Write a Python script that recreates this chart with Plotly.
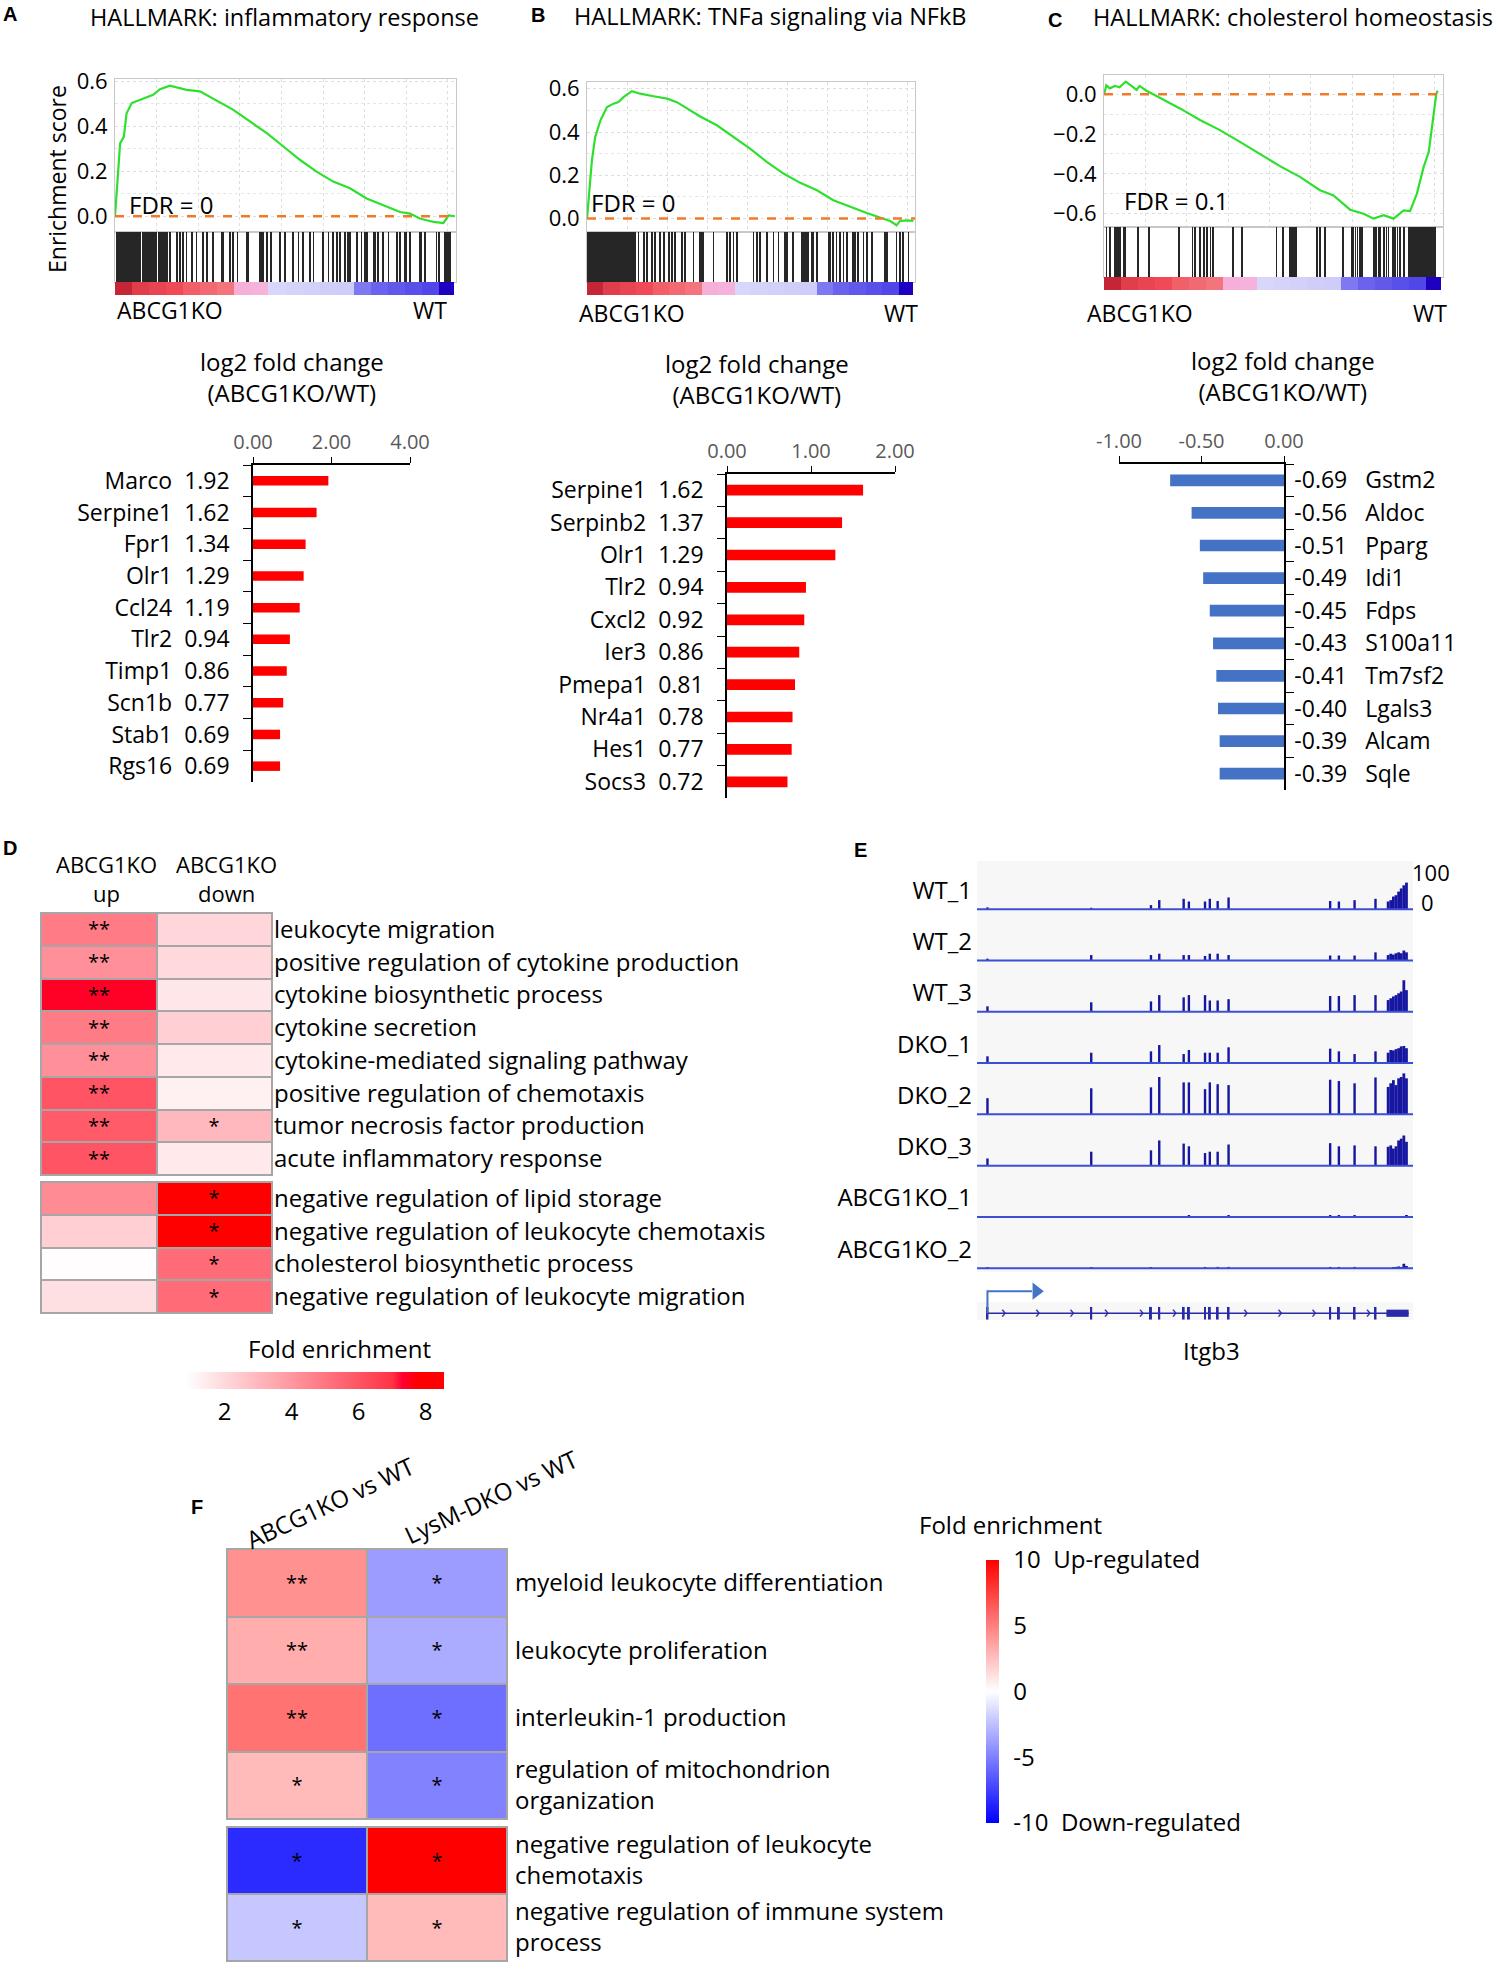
import plotly.graph_objects as go

W, H = 1496, 1965
FA = "Open Sans"
FN = "Open Sans"

# ---------------- data: GSEA (x = position in ranked list, %) ----------------
es_a_x = [0, 0.5, 1.5, 2.6, 3.4, 4.9, 7.3, 11.2, 13.2, 16.1, 21.0, 24.9, 34.7, 39.6, 44.5, 49.4, 54.3,
          59.1, 64.0, 68.9, 73.8, 78.7, 83.6, 86.5, 89.4, 91.4, 93.4, 96.3, 97.8, 99.7]
es_a_y = [0, 0.109, 0.324, 0.354, 0.458, 0.503, 0.518, 0.54, 0.565, 0.58, 0.562, 0.555, 0.473, 0.421,
          0.369, 0.31, 0.25, 0.198, 0.154, 0.124, 0.079, 0.049, 0.019, 0.012, -0.01, -0.018, -0.025,
          -0.03, 0.004, 0.0]
hits_a = [0.5, 0.8, 1.2, 1.5, 1.8, 2.1, 2.4, 2.8, 3.2, 3.6, 4.0, 4.4, 4.9, 5.4, 5.8, 6.2, 6.5, 7.1, 7.5,
          8.1, 8.5, 8.9, 9.3, 9.9, 10.5, 11.0, 11.4, 11.8, 12.2, 12.8, 13.2, 13.8, 14.4, 15.0, 15.3,
          16.1, 18.1, 19.1, 20.0, 21.0, 22.5, 23.9, 25.9, 26.9, 28.8, 31.3, 31.8, 33.7, 34.7, 35.9,
          38.6, 39.1, 42.5, 43.0, 43.5, 44.5, 45.7, 48.4, 49.9, 52.3, 53.8, 55.2, 57.2, 58.2, 61.1,
          62.6, 64.0, 65.2, 66.0, 67.4, 68.4, 68.9, 70.9, 72.3, 73.3, 73.8, 75.8, 76.2, 77.2, 78.7,
          80.2, 82.6, 83.6, 85.0, 85.5, 86.5, 89.4, 89.9, 90.9, 94.3, 95.1, 96.8, 97.3, 97.8, 98.3]

es_b_x = [0, 0.5, 1.5, 2.5, 4.1, 6.1, 8.1, 9.6, 11.2, 13.7, 16.2, 20.3, 24.4, 27.4, 34.5, 39.6, 44.7,
          49.7, 54.8, 59.9, 65.0, 70.1, 75.1, 80.2, 85.3, 89.3, 92.4, 94.4, 95.4, 97.5, 99.5]
es_b_y = [0, 0.085, 0.269, 0.377, 0.454, 0.515, 0.531, 0.538, 0.562, 0.589, 0.577, 0.565, 0.554, 0.538,
          0.472, 0.431, 0.377, 0.323, 0.262, 0.208, 0.165, 0.131, 0.085, 0.054, 0.026, 0.005, -0.011,
          -0.031, -0.011, -0.008, -0.011]
hits_b = [0.2, 0.5, 0.8, 1.1, 1.4, 1.7, 2.0, 2.4, 2.8, 3.2, 3.7, 4.1, 4.6, 5.1, 5.6, 6.1, 6.7, 7.3, 7.9,
          8.5, 9.1, 9.7, 10.4, 11.0, 11.6, 12.2, 12.8, 13.4, 14.0, 14.7, 15.7, 17.3, 18.3, 19.8, 20.8,
          22.3, 23.4, 24.9, 25.9, 26.9, 28.9, 29.9, 32.5, 34.5, 35.0, 35.5, 38.6, 42.6, 43.7, 44.7,
          45.7, 50.8, 51.8, 52.8, 54.8, 56.9, 58.4, 60.4, 60.9, 62.9, 65.5, 66.0, 66.5, 67.0, 67.5,
          68.5, 69.0, 70.1, 73.6, 74.1, 75.1, 76.1, 77.2, 78.2, 79.2, 81.2, 81.7, 82.7, 84.3, 85.3,
          86.8, 90.9, 91.4, 94.4, 95.4, 96.4, 98.0]

es_c_x = [0, 0.7, 1.7, 3.2, 4.6, 6.4, 8.1, 9.6, 10.5, 12.5, 14.5, 22.4, 28.3, 34.2, 40.1, 46.0, 51.9,
          57.8, 63.7, 67.7, 72.6, 76.6, 79.5, 82.5, 85.4, 88.4, 90.3, 92.3, 94.3, 95.8, 96.7, 97.4,
          98.0, 98.4]
es_c_y = [0.0, 0.045, 0.03, 0.042, 0.035, 0.064, 0.042, 0.022, 0.042, 0.018, 0.0, -0.071, -0.129, -0.18,
          -0.239, -0.30, -0.361, -0.415, -0.482, -0.508, -0.58, -0.6, -0.625, -0.608, -0.625, -0.583,
          -0.587, -0.499, -0.365, -0.289, -0.18, -0.079, 0.0, 0.018]
hits_c = [0.7, 1.7, 3.2, 3.8, 4.4, 4.8, 5.8, 6.1, 10.0, 13.2, 22.2, 26.1, 26.8, 28.3, 29.6, 30.4, 31.4,
          32.2, 38.1, 40.6, 50.9, 52.7, 54.7, 55.1, 55.5, 55.9, 56.3, 56.7, 62.8, 63.7, 65.2, 70.6,
          73.1, 73.6, 74.2, 74.8, 75.6, 76.1, 79.7, 80.3, 81.0, 81.5, 82.5, 83.3, 83.9, 85.2, 85.9,
          86.6, 87.4, 88.4, 89.9, 90.5, 91.1, 91.5, 91.9, 92.3, 92.7, 93.1, 93.5, 93.9, 94.3, 94.7,
          95.1, 95.5, 95.9, 96.3, 96.7, 97.1, 97.4, 97.8]

rank_edges = [0, 5, 10, 15, 20, 25, 30, 35, 40, 45, 50, 55, 60, 65, 70, 75, 80, 85, 90, 95, 99.3]
rank_metric = [1.0, 0.8, 0.75, 0.7, 0.6, 0.55, 0.5, 0.3, 0.25, -0.15, -0.2, -0.25, -0.3, -0.35,
               -0.55, -0.65, -0.7, -0.75, -0.8, -1.0]

# ---------------- data: log2 fold change bars ----------------
genes_a = ["Marco", "Serpine1", "Fpr1", "Olr1", "Ccl24", "Tlr2", "Timp1", "Scn1b", "Stab1", "Rgs16"]
lfc_a = [1.92, 1.62, 1.34, 1.29, 1.19, 0.94, 0.86, 0.77, 0.69, 0.69]
genes_b = ["Serpine1", "Serpinb2", "Olr1", "Tlr2", "Cxcl2", "Ier3", "Pmepa1", "Nr4a1", "Hes1", "Socs3"]
lfc_b = [1.62, 1.37, 1.29, 0.94, 0.92, 0.86, 0.81, 0.78, 0.77, 0.72]
genes_c = ["Gstm2", "Aldoc", "Pparg", "Idi1", "Fdps", "S100a11", "Tm7sf2", "Lgals3", "Alcam", "Sqle"]
lfc_c = [-0.69, -0.56, -0.51, -0.49, -0.45, -0.43, -0.41, -0.40, -0.39, -0.39]

# ---------------- data: panel D ----------------
d_cols = ["up", "down"]
d_terms_top = ["leukocyte migration", "positive regulation of cytokine production",
               "cytokine biosynthetic process", "cytokine secretion",
               "cytokine-mediated signaling pathway", "positive regulation of chemotaxis",
               "tumor necrosis factor production", "acute inflammatory response"]
d_up_top = [4.8, 4.2, 7.4, 4.8, 4.2, 6.0, 5.8, 6.0]
d_down_top = [2.1, 2.0, 1.6, 2.3, 1.5, 1.3, 3.0, 1.5]
d_sig_up_top = ["**"] * 8
d_sig_down_top = ["", "", "", "", "", "", "*", ""]
d_terms_bot = ["negative regulation of lipid storage", "negative regulation of leukocyte chemotaxis",
               "cholesterol biosynthetic process", "negative regulation of leukocyte migration"]
d_up_bot = [4.35, 2.3, 0.9, 1.8]
d_down_bot = [8.3, 8.3, 5.3, 5.3]
d_sig_up_bot = ["", "", "", ""]
d_sig_down_bot = ["*", "*", "*", "*"]

# ---------------- data: panel E (coverage, Itgb3) ----------------
tracks = ["WT_1", "WT_2", "WT_3", "DKO_1", "DKO_2", "DKO_3", "ABCG1KO_1", "ABCG1KO_2"]
exon_pos = [2.4, 26.2, 39.9, 41.8, 47.4, 48.6, 52.3, 53.4, 55.2, 57.7, 81.0, 83.0, 86.6, 91.4]
utr_pos = [94.3, 94.9, 95.5, 96.1, 96.7, 97.3, 97.9, 98.5]
utr_start, utr_end = 93.9, 99.0
coverage = {
    "WT_1": [4, 3, 9, 20, 23, 17, 17, 23, 18, 26, 18, 17, 20, 23] + [17, 20, 28, 31, 39, 46, 53, 59],
    "WT_2": [4, 12, 12, 15, 12, 12, 10, 15, 15, 12, 11, 11, 11, 18] + [12, 15, 13, 16, 18, 16, 22, 18],
    "WT_3": [12, 21, 23, 37, 32, 37, 37, 25, 25, 28, 35, 35, 37, 37] + [26, 30, 34, 37, 41, 45, 70, 48],
    "DKO_1": [15, 23, 26, 40, 20, 29, 23, 23, 23, 35, 32, 26, 20, 26] + [23, 29, 28, 31, 33, 37, 38, 33],
    "DKO_2": [36, 58, 60, 83, 71, 71, 56, 71, 67, 65, 77, 74, 69, 82] + [61, 69, 76, 65, 80, 83, 91, 80],
    "DKO_3": [16, 31, 34, 56, 49, 43, 28, 31, 31, 47, 50, 43, 45, 43] + [42, 45, 38, 43, 56, 60, 67, 53],
    "ABCG1KO_1": [0, 0, 0, 0, 0, 3, 0, 0, 0, 3, 4, 4, 3, 0] + [0, 0, 0, 0, 0, 0, 0, 4],
    "ABCG1KO_2": [2, 2, 2, 0, 0, 0, 3, 0, 3, 3, 3, 3, 3, 0] + [0, 0, 2, 3, 4, 2, 10, 5],
}
strand_marks = [6.1, 13.9, 21.8, 29.7, 37.7, 45.3, 61.6, 69.5, 77.3, 89.8]

# ---------------- data: panel F ----------------
f_cols = ["ABCG1KO vs WT", "LysM-DKO vs WT"]
f_terms_top = ["myeloid leukocyte differentiation", "leukocyte proliferation",
               "interleukin-1 production", "regulation of mitochondrion<br>organization"]
f_ko_top = [4.3, 3.2, 5.5, 2.7]
f_dko_top = [-3.9, -3.3, -5.7, -4.9]
f_sig_ko_top = ["**", "**", "**", "*"]
f_sig_dko_top = ["*", "*", "*", "*"]
f_terms_bot = ["negative regulation of leukocyte<br>chemotaxis",
               "negative regulation of immune system<br>process"]
f_ko_bot = [-8.3, -2.2]
f_dko_bot = [10, 2.7]
f_sig_ko_bot = ["*", "*"]
f_sig_dko_bot = ["*", "*"]

# ---------------- helpers ----------------
layout = {}
shapes = []
annotations = []
fig = go.Figure()


def axpair(n, x0, x1, y0, y1, xa=None, ya=None):
    s = "" if n == 1 else str(n)
    layout["xaxis" + s] = dict(domain=[x0 / W, x1 / W], anchor="y" + s, automargin=False, **(xa or {}))
    layout["yaxis" + s] = dict(domain=[1 - y1 / H, 1 - y0 / H], anchor="x" + s, automargin=False,
                               **(ya or {}))
    return "x" + s, "y" + s


def ann(text, x, y, size=22, family=FA, xanchor="center", yanchor="middle", **kw):
    annotations.append(dict(text=text, x=x / W, y=1 - y / H, xref="paper", yref="paper",
                            showarrow=False, font=dict(size=size, family=family, color="black"),
                            xanchor=xanchor, yanchor=yanchor, **kw))


def prect(x0, x1, y0, y1, color):
    shapes.append(dict(type="rect", xref="paper", yref="paper", x0=x0 / W, x1=x1 / W,
                       y0=1 - y1 / H, y1=1 - y0 / H, fillcolor=color, line_width=0, layer="below"))


blank = dict(showgrid=False, zeroline=False, showticklabels=False, ticks="", showline=False)
frame = dict(showline=True, linecolor="#c8c8c8", mirror=True, linewidth=1)
strip_scale = [[0, "#1e00c0"], [0.08, "#4a3ee6"], [0.22, "#7a74f0"], [0.3, "#cbc9f8"],
               [0.45, "#dad8fa"], [0.55, "#f6c0e4"], [0.68, "#f5aad6"], [0.72, "#f38088"],
               [0.85, "#ef4a56"], [1, "#c42638"]]


def gsea(n, x0, x1, top, es_bot, hit_bot, strip_bot, ex, ey, hits, yr, yt):
    grid = dict(showgrid=True, gridcolor="#dedede", griddash="dot", gridwidth=1)
    xs, ys = axpair(n, x0, x1, top, es_bot,
                    dict(range=[0, 100], dtick=12.2, tick0=0, showticklabels=False, ticks="",
                         zeroline=False, **grid, **frame),
                    dict(range=yr, tickvals=yt, tickformat=".1f", ticks="", zeroline=False,
                         ticklabelstandoff=2,
                         tickfont=dict(size=22, family=FA, color="black"),
                         minor=dict(dtick=0.1, tick0=0, showgrid=True, gridcolor="#e6e6e6",
                                    griddash="dot"), **grid, **frame))
    fig.add_trace(go.Scatter(x=ex, y=ey, mode="lines", line=dict(color="#2ee02e", width=2.2),
                             xaxis=xs, yaxis=ys))
    shapes.append(dict(type="line", xref=xs + " domain", yref=ys, x0=0, x1=1, y0=0, y1=0,
                       line=dict(color="#f07a2a", width=2.5, dash="dash")))
    xs2, ys2 = axpair(n + 1, x0, x1, es_bot, hit_bot,
                      dict(range=[0, 100], **dict(blank, **frame)),
                      dict(range=[0, 1], **dict(blank, **frame)))
    fig.add_trace(go.Bar(x=hits, y=[1] * len(hits), width=0.22, marker=dict(color="#262626", line_width=0),
                         xaxis=xs2, yaxis=ys2))
    xs3, ys3 = axpair(n + 2, x0, x1, hit_bot, strip_bot, dict(range=[0, 100], **blank),
                      dict(range=[0, 1], **blank))
    fig.add_trace(go.Heatmap(z=[rank_metric], x=rank_edges, y=[0, 1], colorscale=strip_scale,
                             zmin=-1, zmax=1, showscale=False, xaxis=xs3, yaxis=ys3))


gsea(1, 115, 456, 79, 232, 282, 295, es_a_x, es_a_y, hits_a, [-0.07, 0.61], [0, 0.2, 0.4, 0.6])
gsea(4, 587, 915, 82, 232, 282, 295, es_b_x, es_b_y, hits_b, [-0.062, 0.631], [0, 0.2, 0.4, 0.6])
gsea(7, 1104, 1443, 75, 227, 277, 290, es_c_x, es_c_y, hits_c, [-0.667, 0.097], [0, -0.2, -0.4, -0.6])

ann("<b>A</b>", 1, 14, size=20, family="Arial", xanchor="left")
ann("HALLMARK: inflammatory response", 88, 17, size=23.5, xanchor="left")
ann("<b>B</b>", 529, 15, size=20, family="Arial", xanchor="left")
ann("HALLMARK: TNFa signaling via NFkB", 572, 16, size=23.5, xanchor="left")
ann("<b>C</b>", 1046, 20, size=20, family="Arial", xanchor="left")
ann("HALLMARK: cholesterol homeostasis", 1495, 17, size=23.5, xanchor="right")
ann("Enrichment score", 57, 179, size=23, textangle=-90)
ann("FDR = 0", 127, 204, size=24, xanchor="left")
ann("FDR = 0", 589, 202, size=24, xanchor="left")
ann("FDR = 0.1", 1122, 200, size=24, xanchor="left")
for left, right, yy in [(115, 449, 310), (577, 920, 313), (1085, 1449, 313)]:
    ann("ABCG1KO", left, yy, size=23, xanchor="left")
    ann("WT", right, yy, size=23, xanchor="right")


# ---------------- bar charts ----------------
def barpanel(n, x0, x1, y0, y1, genes, vals, xr, xt, color, bw, right=False, standoff=17):
    sp = "\u00a0\u00a0"
    labels = [(f"{v:.2f}{sp}{sp[:1]}{g}" if right else f"{g}{sp}{v:.2f}") for g, v in zip(genes, vals)]
    xs, ys = axpair(n, x0, x1, y0, y1,
                    dict(range=xr, side="top", tickvals=xt, ticktext=[f"{t:.2f}" for t in xt],
                         tickfont=dict(size=20, family=FA, color="#595959"), ticks="outside",
                         ticklen=6, tickcolor="black", showline=True, linecolor="black",
                         linewidth=1.5, showgrid=False, zeroline=False),
                    dict(type="category", range=[9.5, -0.5], tickvals=genes, ticktext=labels,
                         side="right" if right else "left", tickson="boundaries", ticks="outside",
                         ticklen=8, tickcolor="black", showline=True, linecolor="black",
                         linewidth=1.5, showgrid=False, zeroline=False, ticklabelstandoff=standoff,
                         tickfont=dict(size=23, family=FA, color="black")))
    fig.add_trace(go.Bar(x=vals, y=genes, orientation="h", width=bw,
                         marker=dict(color=color, line_width=0), xaxis=xs, yaxis=ys))


barpanel(10, 253, 410, 465, 782, genes_a, lfc_a, [0, 4], [0, 2, 4], "#ff0000", 0.3)
barpanel(11, 727, 895, 474, 798, genes_b, lfc_b, [0, 2], [0, 1, 2], "#ff0000", 0.33)
barpanel(12, 1119, 1284, 464, 790, genes_c, lfc_c, [-1, 0], [-1, -0.5, 0], "#4472c4", 0.36,
         right=True, standoff=4)
ann("log2 fold change<br>(ABCG1KO/WT)", 292, 377, size=24)
ann("log2 fold change<br>(ABCG1KO/WT)", 757, 379, size=24)
ann("log2 fold change<br>(ABCG1KO/WT)", 1283, 376, size=24)


# ---------------- heatmaps D and F ----------------
def heat(n, x0, x1, y0, y1, cols, terms, c1, c2, s1, s2, cax, standoff):
    xs, ys = axpair(n, x0, x1, y0, y1, dict(blank, type="category"),
                    dict(type="category", autorange="reversed", side="right", ticks="",
                         showgrid=False, zeroline=False, ticklabelstandoff=standoff,
                         tickfont=dict(size=24, family=FN, color="black")))
    fig.add_trace(go.Heatmap(z=[[a, b] for a, b in zip(c1, c2)], x=cols, y=terms,
                             text=[[a, b] for a, b in zip(s1, s2)], texttemplate="%{text}",
                             textfont=dict(size=20, family=FA, color="black"), coloraxis=cax,
                             xgap=2, ygap=2, xaxis=xs, yaxis=ys))
    prect(x0 - 1, x1 + 1, y0 - 1, y1 + 1, "#a6a6a6")


heat(13, 41, 272, 913, 1175, d_cols, d_terms_top, d_up_top, d_down_top, d_sig_up_top, d_sig_down_top,
     "coloraxis", 1)
heat(14, 41, 272, 1182, 1313, d_cols, d_terms_bot, d_up_bot, d_down_bot, d_sig_up_bot, d_sig_down_bot,
     "coloraxis", 1)
heat(16, 227, 507, 1549, 1819, f_cols, f_terms_top, f_ko_top, f_dko_top, f_sig_ko_top, f_sig_dko_top,
     "coloraxis2", 7)
heat(17, 227, 507, 1827, 1961, f_cols, f_terms_bot, f_ko_bot, f_dko_bot, f_sig_ko_bot, f_sig_dko_bot,
     "coloraxis2", 7)

ann("<b>D</b>", 1, 848, size=20, family="Arial", xanchor="left")
ann("ABCG1KO<br>up", 106, 878, size=22, family=FN)
ann("ABCG1KO<br>down", 226, 878, size=22, family=FN)
ann("Fold enrichment", 339, 1348, size=24, family=FN)
ann("<b>F</b>", 189, 1507, size=20, family="Arial", xanchor="left")
ann(f_cols[0], 330, 1502, size=24, family=FN, textangle=-25)
ann(f_cols[1], 491, 1496, size=24, family=FN, textangle=-25)
ann("Fold enrichment", 1010, 1524, size=24, family=FN)

# ---------------- panel E ----------------
step = 114
gene_y = -898
xs, ys = axpair(15, 977, 1413, 861, 1320, dict(range=[0, 100], **blank),
                dict(range=[-913, 107], showgrid=False, zeroline=False, ticks="",
                     tickvals=[-step * i + 42 for i in range(len(tracks))], ticktext=tracks,
                     ticklabelstandoff=4, tickfont=dict(size=24, family=FN, color="black")))
prect(977, 1413, 861, 1272, "#f7f7f7")
prect(977, 1413, 1302, 1320, "#f7f7f7")
for i, t in enumerate(tracks):
    base = -step * i
    fig.add_trace(go.Bar(x=exon_pos + utr_pos, y=coverage[t], base=base,
                         width=[0.55] * len(exon_pos) + [0.64] * len(utr_pos),
                         marker=dict(color="#1616a0", line_width=0), xaxis=xs, yaxis=ys))
    fig.add_trace(go.Scatter(x=[0, 100], y=[base, base], mode="lines",
                             line=dict(color="#3c4fd4", width=2), xaxis=xs, yaxis=ys))
fig.add_trace(go.Scatter(x=[exon_pos[0], utr_end], y=[gene_y, gene_y], mode="lines",
                         line=dict(color="#2a2aa8", width=1.5), xaxis=xs, yaxis=ys))
fig.add_trace(go.Bar(x=exon_pos, y=[28] * len(exon_pos), base=gene_y - 14, width=0.45,
                     marker=dict(color="#2a2aa8", line_width=0), xaxis=xs, yaxis=ys))
fig.add_trace(go.Bar(x=[(utr_start + utr_end) / 2], y=[16], base=gene_y - 8, width=utr_end - utr_start,
                     marker=dict(color="#2a2aa8", line_width=0), xaxis=xs, yaxis=ys))
fig.add_trace(go.Scatter(x=strand_marks, y=[gene_y] * len(strand_marks), mode="text",
                         text=["\u203a"] * len(strand_marks),
                         textfont=dict(size=18, color="#2a2aa8"), xaxis=xs, yaxis=ys))
fig.add_trace(go.Scatter(x=[exon_pos[0], exon_pos[0], 12.6], y=[gene_y, gene_y + 49, gene_y + 49],
                         mode="lines", line=dict(color="#4472c4", width=2), xaxis=xs, yaxis=ys))
fig.add_trace(go.Scatter(x=[13.6], y=[gene_y + 49], mode="markers",
                         marker=dict(symbol="triangle-right", size=15, color="#4472c4"),
                         xaxis=xs, yaxis=ys))
ann("<b>E</b>", 852, 850, size=20, family="Arial", xanchor="left")
ann("100", 1431, 872, size=22, family=FN)
ann("0", 1427, 902, size=22, family=FN)
ann("Itgb3", 1211, 1350, size=24, family=FN)

# ---------------- colour axes ----------------
layout["coloraxis"] = dict(
    cmin=0.85, cmax=8.55,
    colorscale=[[0, "#ffffff"], [0.8, "#ff3344"], [0.84, "#ff0030"], [0.9, "#ff0000"], [1, "#ff0000"]],
    colorbar=dict(orientation="h", x=315 / W, xanchor="center", y=1 - 1372 / H, yanchor="top",
                  len=258, lenmode="pixels", thickness=17, outlinewidth=0, xpad=0, ypad=0,
                  tickvals=[2, 4, 6, 8], ticks="outside", ticklen=3, tickcolor="white",
                  tickfont=dict(size=24, family=FN, color="black")))
layout["coloraxis2"] = dict(
    cmin=-10, cmax=10, colorscale=[[0, "#0000ff"], [0.5, "#ffffff"], [1, "#ff0000"]],
    colorbar=dict(x=986 / W, xanchor="left", y=1 - 1560 / H, yanchor="top", len=263,
                  lenmode="pixels", thickness=13, outlinewidth=0, xpad=0, ypad=0,
                  tickvals=[10, 5, 0, -5, -10],
                  ticktext=["10\u00a0\u00a0Up-regulated", "5", "0", "-5", "-10\u00a0\u00a0Down-regulated"],
                  ticks="outside", ticklen=10, tickcolor="white",
                  tickfont=dict(size=24, family=FN, color="black")))

fig.update_layout(**layout)
fig.update_layout(width=W, height=H, margin=dict(l=0, r=0, t=0, b=0), showlegend=False,
                  paper_bgcolor="white", plot_bgcolor="rgba(0,0,0,0)", barmode="overlay",
                  font=dict(family=FA, color="black"), shapes=shapes, annotations=annotations)
fig.write_html("out.html", config={"displayModeBar": False},
               post_script="document.body.style.margin='0px';document.body.style.overflow='hidden';")
